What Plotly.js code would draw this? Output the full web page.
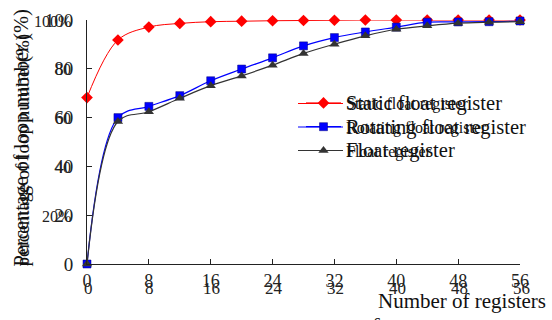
<!DOCTYPE html>
<html>
<head>
<meta charset="utf-8">
<script src="https://cdn.plot.ly/plotly-3.0.1.min.js"></script>
<style>
html,body{margin:0;padding:0;background:#fff;}
#chart{width:552px;height:320px;}
</style>
</head>
<body>
<div id="chart"></div>
<script>
// ---- data ----
const registers = [0, 4, 8, 12, 16, 20, 24, 28, 32, 36, 40, 44, 48, 52, 56];
const staticFloat = [68.2, 91.8, 97.1, 98.6, 99.3, 99.5, 99.7, 99.8, 99.9, 100, 100, 100, 100, 100, 100];
const rotatingFloat = [0, 60, 64.6, 69, 75.1, 79.9, 84.5, 89.4, 92.8, 95.1, 97.1, 99.1, 99.2, 99.3, 99.6];
const floatReg = [0, 58.4, 62.4, 67.9, 73.1, 77.1, 81.5, 86.3, 90.1, 93.5, 96.2, 97.6, 98.7, 99.1, 99.3];
const seriesNames = ["Static float register", "Rotating float register", "Float register"];
const seriesNamesAlt = ["Static float register", "Rotating float register", "Float register"];
const seriesColors = ["#ff0000", "#0000ff", "#333333"];
const xTickVals = [0, 8, 16, 24, 32, 40, 48, 56];
const xTickText = ["0", "8", "16", "24", "32", "40", "48", "56"];
const yTickVals = [0, 20, 40, 60, 80, 100];
const yTickText = ["0", "20", "40", "60", "80", "100"];
const yTickTextAlt = ["", "20%", "40", "60", "80", "100%"];
const yTitle = "Percentage of loop number (%)";
const yTitleAlt = "percentage of loop number(%)";
const xTitle = "Number of registers";

const serif = "Liberation Serif, Times New Roman, serif";

const traces = [
  {x: registers, y: staticFloat, name: seriesNames[0], mode: "lines+markers",
   line: {color: seriesColors[0], width: 1, shape: "spline", smoothing: 1},
   marker: {symbol: "diamond", size: 9, color: seriesColors[0]}, cliponaxis: false},
  {x: registers, y: rotatingFloat, name: seriesNames[1], mode: "lines+markers",
   line: {color: seriesColors[1], width: 1.2, shape: "spline", smoothing: 1},
   marker: {symbol: "square", size: 8, color: seriesColors[1], line: {color: "#00007a", width: 0.5}}, cliponaxis: false},
  {x: registers, y: floatReg, name: seriesNames[2], mode: "lines+markers",
   line: {color: seriesColors[2], width: 1.2, shape: "spline", smoothing: 1},
   marker: {symbol: "triangle-up", size: 9, color: seriesColors[2]}, cliponaxis: false}
];

const L = 87, R = 520, T = 20, B = 264;
const px2x = p => (p - L) / (R - L);
const py2y = p => (B - p) / (B - T);

const annotations = [];
const shapes = [];
// overprinted y tick labels
yTickVals.forEach((v, i) => {
  if (!yTickTextAlt[i]) return;
  annotations.push({xref: "paper", yref: "y", x: px2x(73), y: v, xanchor: "right", yanchor: "middle", yshift: -1,
    text: yTickTextAlt[i], showarrow: false, font: {family: serif, size: 16, color: "#222"}});
});
// overprinted x tick labels (second row)
xTickVals.forEach((v, i) => {
  annotations.push({xref: "x", yref: "paper", x: v, y: py2y(288), xanchor: "center", yanchor: "middle", xshift: 1,
    text: xTickText[i], showarrow: false, font: {family: serif, size: 17, color: "#222"}});
});
// y titles (overprinted pair)
annotations.push({xref: "paper", yref: "paper", x: px2x(21), y: py2y(269), xanchor: "center", yanchor: "bottom",
  text: yTitle, textangle: -90, showarrow: false, font: {family: serif, size: 20.5, color: "#111"}});
annotations.push({xref: "paper", yref: "paper", x: px2x(22), y: py2y(269), xanchor: "center", yanchor: "bottom",
  text: yTitleAlt, textangle: -90, showarrow: false, font: {family: serif, size: 19, color: "#111"}});
// x title
annotations.push({xref: "paper", yref: "paper", x: px2x(462), y: py2y(301), xanchor: "center", yanchor: "middle",
  text: xTitle, showarrow: false, font: {family: serif, size: 21, color: "#111"}});
annotations.push({xref: "paper", yref: "paper", x: px2x(377), y: py2y(309), xanchor: "center", yanchor: "top",
  text: "s", showarrow: false, font: {family: serif, size: 18, color: "#111"}});
// overprinted legend texts + longer legend lines
const legRows = [103.5, 127, 150.5];
seriesNamesAlt.forEach((t, i) => {
  annotations.push({xref: "paper", yref: "paper", x: px2x(344), y: py2y(legRows[i]), xanchor: "left", yanchor: "middle",
    text: t, showarrow: false, font: {family: serif, size: 20.5, color: "#111"}});
  shapes.push({type: "line", xref: "paper", yref: "paper", x0: px2x(298), x1: px2x(343),
    y0: py2y(legRows[i]), y1: py2y(legRows[i]), line: {color: seriesColors[i], width: 1.2}, layer: "below"});
});

const layout = {
  width: 552, height: 320,
  margin: {l: L, r: 552 - R, t: T, b: 320 - B},
  paper_bgcolor: "#ffffff", plot_bgcolor: "#ffffff",
  showlegend: true,
  legend: {x: px2x(301), y: py2y(127), xanchor: "left", yanchor: "middle", bgcolor: "rgba(0,0,0,0)",
    font: {family: serif, size: 16, color: "#111"}, tracegroupgap: 0, itemwidth: 35},
  xaxis: {range: [0, 56], tickvals: xTickVals, ticktext: xTickText, ticks: "inside", ticklen: 5,
    tickcolor: "#222", showline: true, linecolor: "#222", linewidth: 1, showgrid: false, zeroline: false,
    tickfont: {family: serif, size: 18, color: "#222"}, ticklabelstandoff: 0, fixedrange: true},
  yaxis: {range: [0, 100], tickvals: yTickVals, ticktext: yTickText, ticks: "inside", ticklen: 5,
    tickcolor: "#222", showline: true, linecolor: "#222", linewidth: 1, showgrid: false, zeroline: false,
    tickfont: {family: serif, size: 19, color: "#222"}, ticklabelstandoff: 9, fixedrange: true},
  annotations: annotations,
  shapes: shapes
};

Plotly.newPlot("chart", traces, layout, {displayModeBar: false, staticPlot: true});
</script>
</body>
</html>
